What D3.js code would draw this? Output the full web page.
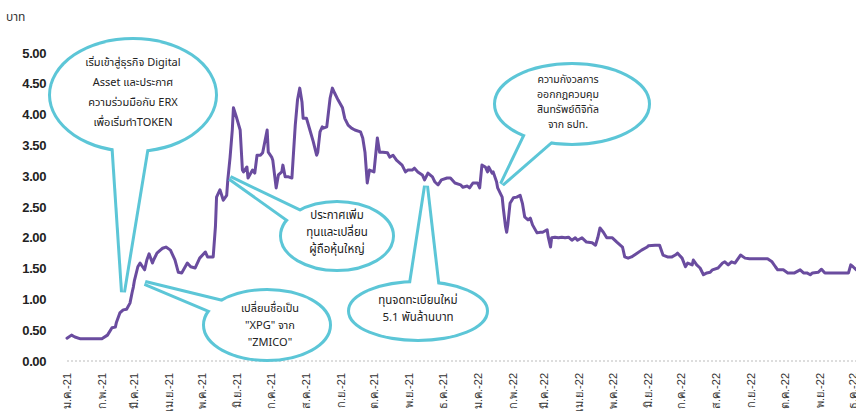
<!DOCTYPE html>
<html><head><meta charset="utf-8">
<script src="https://cdn.jsdelivr.net/npm/d3@7"></script>
<style>
html,body{margin:0;padding:0;background:#fff;overflow:hidden;}
svg{display:block;font-family:"Noto Sans Thai","Noto Sans","DejaVu Sans",sans-serif;}
</style></head>
<body>
<svg id="chart" width="856" height="412"></svg>
<script>
const dates = ["2021-01-01","2021-01-05","2021-01-08","2021-01-13","2021-02-01","2021-02-06","2021-02-10","2021-02-13","2021-02-14","2021-02-17","2021-02-20","2021-02-23","2021-02-26","2021-02-28","2021-03-01","2021-03-02","2021-03-05","2021-03-07","2021-03-10","2021-03-11","2021-03-13","2021-03-15","2021-03-18","2021-03-19","2021-03-22","2021-03-25","2021-03-27","2021-03-30","2021-04-03","2021-04-07","2021-04-10","2021-04-13","2021-04-18","2021-04-21","2021-04-25","2021-04-29","2021-05-04","2021-05-06","2021-05-11","2021-05-13","2021-05-14","2021-05-17","2021-05-20","2021-05-23","2021-05-24","2021-05-26","2021-05-28","2021-05-29","2021-06-01","2021-06-04","2021-06-06","2021-06-07","2021-06-10","2021-06-11","2021-06-15","2021-06-17","2021-06-19","2021-06-22","2021-06-24","2021-06-28","2021-06-29","2021-07-02","2021-07-03","2021-07-06","2021-07-08","2021-07-11","2021-07-12","2021-07-14","2021-07-17","2021-07-20","2021-07-23","2021-07-25","2021-07-27","2021-07-29","2021-07-30","2021-08-02","2021-08-05","2021-08-08","2021-08-11","2021-08-12","2021-08-14","2021-08-16","2021-08-17","2021-08-20","2021-08-23","2021-08-25","2021-08-27","2021-08-30","2021-09-03","2021-09-05","2021-09-08","2021-09-11","2021-09-14","2021-09-19","2021-09-21","2021-09-23","2021-09-25","2021-09-27","2021-10-01","2021-10-04","2021-10-06","2021-10-09","2021-10-13","2021-10-15","2021-10-18","2021-10-21","2021-10-26","2021-10-29","2021-10-31","2021-11-04","2021-11-06","2021-11-09","2021-11-13","2021-11-15","2021-11-18","2021-11-22","2021-11-24","2021-11-27","2021-11-30","2021-12-05","2021-12-08","2021-12-12","2021-12-17","2021-12-19","2021-12-23","2021-12-25","2021-12-28","2022-01-01","2022-01-03","2022-01-05","2022-01-08","2022-01-10","2022-01-11","2022-01-14","2022-01-15","2022-01-18","2022-01-19","2022-01-23","2022-01-24","2022-01-26","2022-01-27","2022-01-28","2022-01-30","2022-02-02","2022-02-05","2022-02-08","2022-02-10","2022-02-11","2022-02-12","2022-02-15","2022-02-17","2022-02-19","2022-02-23","2022-02-26","2022-02-28","2022-03-04","2022-03-05","2022-03-07","2022-03-08","2022-03-11","2022-03-14","2022-03-17","2022-03-20","2022-03-23","2022-03-26","2022-03-29","2022-03-31","2022-04-04","2022-04-08","2022-04-13","2022-04-16","2022-04-18","2022-04-20","2022-04-23","2022-04-26","2022-05-01","2022-05-05","2022-05-10","2022-05-12","2022-05-15","2022-05-18","2022-05-23","2022-05-27","2022-06-01","2022-06-02","2022-06-08","2022-06-12","2022-06-15","2022-06-19","2022-06-23","2022-06-26","2022-06-28","2022-07-02","2022-07-05","2022-07-07","2022-07-11","2022-07-12","2022-07-15","2022-07-18","2022-07-21","2022-07-24","2022-07-27","2022-07-29","2022-08-03","2022-08-07","2022-08-09","2022-08-12","2022-08-15","2022-08-18","2022-08-23","2022-08-27","2022-08-31","2022-09-09","2022-09-16","2022-09-20","2022-09-23","2022-09-25","2022-09-30","2022-10-04","2022-10-08","2022-10-10","2022-10-15","2022-10-18","2022-10-21","2022-10-24","2022-10-26","2022-10-31","2022-11-03","2022-11-06","2022-11-11","2022-11-17","2022-11-24","2022-11-27","2022-11-29","2022-12-01","2022-12-04"];
const prices = [0.37,0.42,0.39,0.36,0.36,0.42,0.54,0.55,0.63,0.78,0.83,0.84,0.94,1.12,1.20,1.31,1.53,1.59,1.51,1.48,1.64,1.74,1.59,1.64,1.75,1.80,1.83,1.85,1.80,1.64,1.44,1.43,1.59,1.53,1.51,1.67,1.77,1.69,1.69,2.18,2.66,2.78,2.61,2.69,2.94,3.30,3.75,4.11,3.94,3.75,3.10,3.07,3.15,2.97,3.10,3.05,3.34,3.34,3.38,3.75,3.39,3.31,3.26,2.81,3.02,3.07,3.18,2.99,2.99,2.97,3.83,4.24,4.43,4.20,3.94,3.94,3.75,3.56,3.34,3.39,3.72,3.80,3.78,3.80,4.27,4.43,4.35,4.24,4.11,3.94,3.83,3.78,3.75,3.72,3.62,3.39,2.89,3.10,3.07,3.62,3.39,3.39,3.38,3.31,3.34,3.26,3.18,3.07,3.10,3.10,3.13,3.07,3.02,2.94,3.05,2.99,2.91,2.86,2.94,2.97,2.97,2.89,2.86,2.82,2.84,2.81,2.89,2.89,2.81,3.18,3.15,3.07,3.15,3.05,3.07,2.91,2.81,2.66,2.48,2.18,2.09,2.21,2.56,2.65,2.66,2.69,2.56,2.45,2.34,2.29,2.32,2.21,2.08,2.09,2.09,2.13,2.01,1.85,2.00,2.01,2.00,2.01,2.00,2.01,1.96,2.00,1.96,2.00,1.93,1.92,1.88,2.00,2.16,2.09,2.00,2.00,1.93,1.85,1.69,1.67,1.69,1.75,1.80,1.85,1.87,1.88,1.88,1.72,1.69,1.69,1.72,1.75,1.67,1.53,1.59,1.56,1.64,1.56,1.51,1.40,1.43,1.44,1.48,1.51,1.59,1.61,1.56,1.61,1.59,1.72,1.67,1.66,1.66,1.66,1.61,1.53,1.48,1.48,1.43,1.43,1.43,1.48,1.43,1.43,1.40,1.43,1.44,1.49,1.43,1.43,1.43,1.43,1.43,1.56,1.53,1.48];
const monthNames = ["ม.ค.","ก.พ.","มี.ค.","เม.ย.","พ.ค.","มิ.ย.","ก.ค.","ส.ค.","ก.ย.","ต.ค.","พ.ย.","ธ.ค."];
const monthTicks = ["2021-01-01","2021-02-01","2021-03-01","2021-04-01","2021-05-01","2021-06-01","2021-07-01","2021-08-01","2021-09-01","2021-10-01","2021-11-01","2021-12-01","2022-01-01","2022-02-01","2022-03-01","2022-04-01","2022-05-01","2022-06-01","2022-07-01","2022-08-01","2022-09-01","2022-10-01","2022-11-01","2022-12-01"];
const yTicks = [0,0.5,1,1.5,2,2.5,3,3.5,4,4.5,5];
const unitLabel = "บาท";
const calloutTexts = [
  ["เริ่มเข้าสู่ธุรกิจ Digital","Asset และประกาศ","ความร่วมมือกับ ERX","เพื่อเริ่มทำTOKEN"],
  ["ประกาศเพิ่ม","ทุนและเปลี่ยน","ผู้ถือหุ้นใหญ่"],
  ["เปลี่ยนชื่อเป็น","\"XPG\" จาก","\"ZMICO\""],
  ["ทุนจดทะเบียนใหม่","5.1 พันล้านบาท"],
  ["ความกังวลการ","ออกกฎควบคุม","สินทรัพย์ดิจิทัล","จาก ธปท."]
];

const parse = d3.timeParse("%Y-%m-%d");
const series = dates.map((d,i)=>({date:parse(d), value:prices[i]}));
const svg = d3.select("#chart");

const x = d3.scaleTime().domain([parse("2021-01-01"), parse("2022-12-01")]).range([67, 853]);
const y = d3.scaleLinear().domain([0,5]).range([361,53]);

// unit label
svg.append("text").attr("x",6).attr("y",21).attr("font-size",12).attr("fill","#333").text(unitLabel);

// baseline
svg.append("line").attr("x1",67).attr("x2",856).attr("y1",y(0)).attr("y2",y(0))
  .attr("stroke","#bbb").attr("stroke-width",1).attr("stroke-dasharray","2,2");

// y axis
const yAxis = svg.append("g").attr("transform","translate(46,0)")
  .call(d3.axisLeft(y).tickValues(yTicks).tickSize(0).tickPadding(0).tickFormat(d3.format(".2f")));
yAxis.select(".domain").remove();
yAxis.selectAll("text").attr("font-size",13).attr("font-weight","bold").attr("fill","#222")
  .attr("font-family","'Liberation Sans',Arial,sans-serif").attr("letter-spacing","-0.4");

// x axis
const xAxis = svg.append("g").attr("transform",`translate(0,${y(0)})`)
  .call(d3.axisBottom(x).tickValues(monthTicks.map(parse)).tickSize(0)
    .tickFormat(d => monthNames[d.getMonth()] + "-" + String(d.getFullYear()).slice(2)));
xAxis.select(".domain").remove();
xAxis.selectAll("text").attr("transform","rotate(-90)").attr("text-anchor","end")
  .attr("x",-12).attr("y",0).attr("dy","0.35em").attr("font-size",11).attr("fill","#333");

// line
svg.append("path").datum(series)
  .attr("fill","none").attr("stroke","#6a4c9f").attr("stroke-width",3)
  .attr("stroke-linejoin","round").attr("stroke-linecap","round")
  .attr("d", d3.line().x(d=>x(d.date)).y(d=>y(d.value)));

// callouts
const cyan = "#5cc6d7";
const layouts = [
  {cx:133, cy:95, rx:82, ry:55, tail:[[113,140],[123,292],[148,140]], tx:133, ty:[66,86,106,126], fs:11},
  {cx:337, cy:236, rx:55, ry:33, tail:[[305,214],[230,178],[300,228]], tx:337, ty:[219,236,253], fs:11.5},
  {cx:267, cy:325, rx:62, ry:34, tail:[[235,305],[145,283],[228,318]], tx:270, ty:[312,329,346], fs:11},
  {cx:418, cy:311, rx:68, ry:28, tail:[[410,290],[426,186],[438,290]], tx:418, ty:[304,321], fs:11.5},
  {cx:572, cy:104, rx:76, ry:39, tail:[[527,132],[502,184],[556,137]], tx:568, ty:[83,98,113,128], fs:10.5}
];
layouts.forEach((L,i)=>{
  const g = svg.append("g");
  [ {stroke:cyan, sw:6}, {stroke:"none", sw:0} ].forEach(p=>{
    g.append("ellipse").attr("cx",L.cx).attr("cy",L.cy).attr("rx",L.rx).attr("ry",L.ry)
      .attr("fill","#fff").attr("stroke",p.stroke).attr("stroke-width",p.sw);
    g.append("path").attr("d","M"+L.tail.map(q=>q.join(",")).join("L")+"Z")
      .attr("fill","#fff").attr("stroke",p.stroke).attr("stroke-width",p.sw).attr("stroke-linejoin","miter");
  });
  calloutTexts[i].forEach((t,j)=>{
    g.append("text").attr("x",L.tx).attr("y",L.ty[j]).attr("text-anchor","middle")
      .attr("font-size",L.fs).attr("fill","#222").text(t);
  });
});
</script>
</body></html>
